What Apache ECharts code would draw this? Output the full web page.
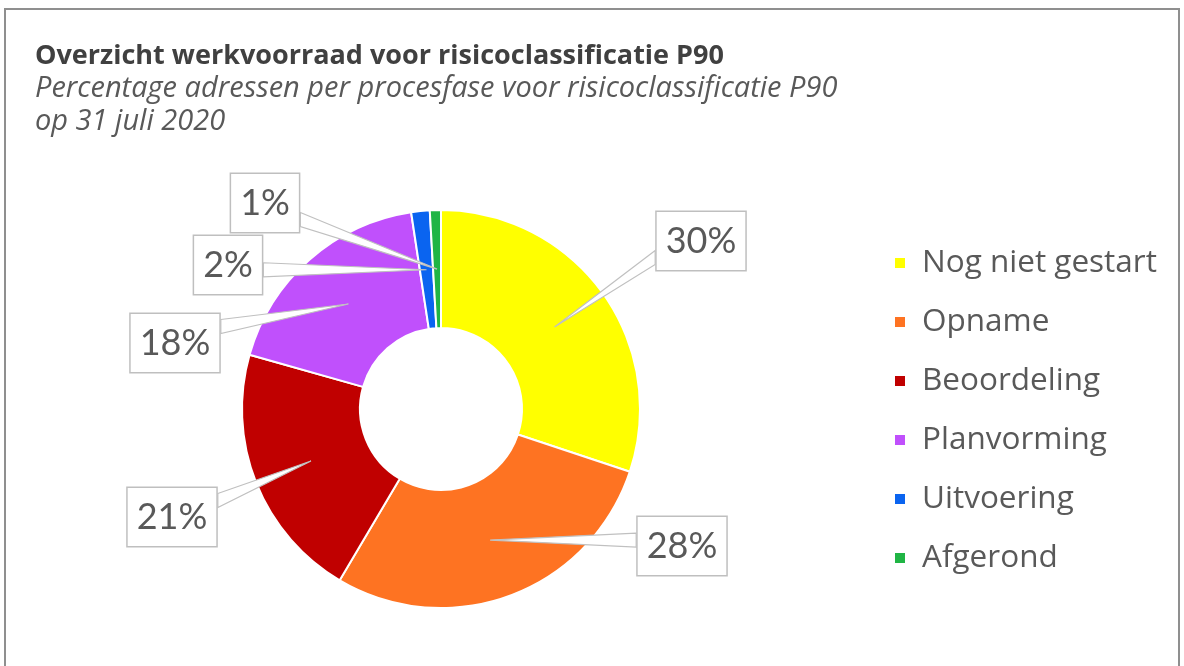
<!DOCTYPE html>
<html>
<head>
<meta charset="utf-8">
<script src="https://cdn.jsdelivr.net/npm/echarts@6/dist/echarts.min.js"></script>
<style>
html,body{margin:0;padding:0;background:#fff;}
#chart{width:1184px;height:666px;}
</style>
</head>
<body>
<div id="chart"></div>
<script>
// ---- data ----
const categories = ['Nog niet gestart', 'Opname', 'Beoordeling', 'Planvorming', 'Uitvoering', 'Afgerond'];
const values = [30.1, 28.4, 20.9, 18.2, 1.5, 0.9];
const colors = ['#ffff00', '#fe7322', '#c00000', '#c050fc', '#0a64f0', '#20b545'];
const titleText = 'Overzicht werkvoorraad voor risicoclassificatie P90';
const subtitleText = 'Percentage adressen per procesfase voor risicoclassificatie P90\nop 31 juli 2020';

// ---- layout (label box centres, px) ----
const labelBoxCenters = [[701, 241], [682, 546], [172, 517], [175, 343], [228, 265], [265, 203]];
const pieCenter = [441, 409];
const radii = [81, 199];

const labelSizes = [];
const chart = echarts.init(document.getElementById('chart'), null, {renderer: 'canvas'});

const frame = {
  id: 'frame',
  type: 'rect',
  shape: {x: 5, y: 9, width: 1174, height: 680},
  style: {fill: 'none', stroke: '#8f8f8f', lineWidth: 2},
  silent: true,
  z: 100
};

const option = {
  backgroundColor: '#ffffff',
  animation: false,
  title: {
    text: titleText,
    subtext: subtitleText,
    left: 35,
    top: 41,
    padding: 0,
    itemGap: 0,
    textStyle: {fontFamily: 'Open Sans', fontWeight: 'bold', fontSize: 27, lineHeight: 31, color: '#404040'},
    subtextStyle: {fontFamily: 'Open Sans', fontStyle: 'italic', fontSize: 29, lineHeight: 33, color: '#595959'}
  },
  legend: {
    orient: 'vertical',
    left: 893,
    top: 245,
    padding: 0,
    icon: 'rect',
    itemWidth: 12,
    itemHeight: 12,
    itemGap: 23,
    data: categories,
    textStyle: {fontFamily: 'Open Sans', fontSize: 31.5, lineHeight: 36, color: '#595959', padding: [0, 0, 0, 11]}
  },
  graphic: [frame],
  series: [{
    type: 'pie',
    center: pieCenter,
    radius: radii,
    startAngle: 90,
    clockwise: true,
    avoidLabelOverlap: false,
    itemStyle: {borderColor: '#ffffff', borderWidth: 2},
    data: categories.map((c, i) => ({name: c, value: values[i], itemStyle: {color: colors[i]}})),
    label: {
      show: true,
      position: 'outside',
      formatter: p => Math.round(p.value) + '%',
      fontFamily: 'Lato',
      fontSize: 36,
      lineHeight: 38,
      color: '#595959',
      backgroundColor: '#ffffff',
      borderColor: '#bfbfbf',
      borderWidth: 1.5,
      padding: [10, 9]
    },
    labelLine: {show: false},
    labelLayout: function (params) {
      const i = params.dataIndex;
      labelSizes[i] = [params.labelRect.width, params.labelRect.height];
      return {
        x: labelBoxCenters[i][0],
        y: labelBoxCenters[i][1],
        align: 'center',
        verticalAlign: 'middle'
      };
    }
  }]
};
chart.setOption(option);

// callout wedges: from label box edge to the middle of each ring segment (layout from the pie)
function drawWedges() {
  const data = chart.getModel().getSeriesByIndex(0).getData();
  const wedges = [];
  for (let i = 0; i < categories.length; i++) {
    const lay = data.getItemLayout(i);
    const mid = (lay.startAngle + lay.endAngle) / 2;
    const rm = (lay.r + lay.r0) / 2;
    const tip = [lay.cx + rm * Math.cos(mid), lay.cy + rm * Math.sin(mid)];
    const bc = labelBoxCenters[i];
    const sz = labelSizes[i] || [80, 58];
    const w = sz[0], h = sz[1];
    const ax = bc[0] > lay.cx ? bc[0] - w / 2 : bc[0] + w / 2;
    const top = bc[1] - h / 2, bottom = bc[1] + h / 2;
    const ay = Math.min(Math.max(tip[1], top + 14), bottom - 14);
    wedges.push({
      id: 'wedge' + i,
      type: 'polygon',
      shape: {points: [[ax, ay - 7], tip, [ax, ay + 7]]},
      style: {fill: '#ffffff', stroke: '#c0c0c0', lineWidth: 1.2},
      silent: true,
      z: 50
    });
  }
  chart.setOption({graphic: [frame].concat(wedges)});
}
drawWedges();
</script>
</body>
</html>
